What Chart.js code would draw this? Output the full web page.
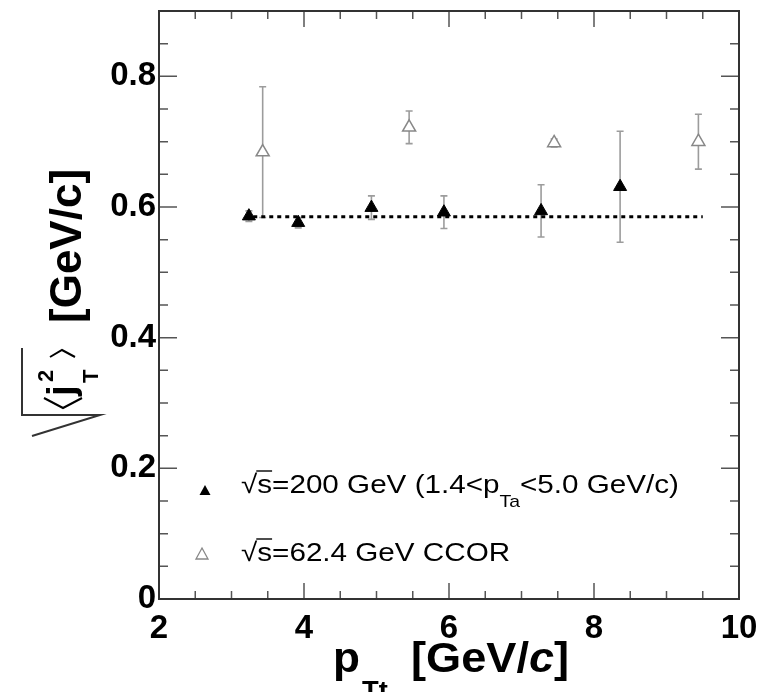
<!DOCTYPE html>
<html>
<head>
<meta charset="utf-8">
<script src="https://cdn.jsdelivr.net/npm/chart.js@4.4.1/dist/chart.umd.min.js"></script>
<style>
  html, body { margin: 0; padding: 0; background: #fff; }
</style>
</head>
<body>
<canvas id="grafico" width="769" height="692"></canvas>
<script>
// datos
const ptTrig200 = [3.24, 3.92, 4.93, 5.93, 7.27, 8.36];
const jt200 = [0.586, 0.576, 0.599, 0.592, 0.594, 0.631];
const err200 = [0.008, 0.008, 0.018, 0.025, 0.04, 0.085];

const ptTrig62 = [3.43, 5.45, 7.45, 9.44];
const jt62 = [0.684, 0.722, 0.698, 0.70];
const err62 = [0.1, 0.025, 0.006, 0.042];

const fitX = [3.3, 9.5];
const fitY = 0.585;

const xTicks = [2, 4, 6, 8, 10];
const yTicks = [0, 0.2, 0.4, 0.6, 0.8];

const FONT = '"Liberation Sans", Arial, Helvetica, sans-serif';

// barras de error (gris)
const errorBars = {
  id: 'errorBars',
  beforeDatasetsDraw(chart) {
    const { ctx, scales: { x, y } } = chart;
    ctx.save();
    ctx.strokeStyle = '#9c9c9c';
    ctx.lineWidth = 1.6;
    const dibujar = (xs, ys, es) => xs.forEach((v, i) => {
      const px = x.getPixelForValue(v);
      const top = y.getPixelForValue(ys[i] + es[i]);
      const bot = y.getPixelForValue(ys[i] - es[i]);
      ctx.beginPath();
      ctx.moveTo(px, top); ctx.lineTo(px, bot);
      ctx.moveTo(px - 3.5, top); ctx.lineTo(px + 3.5, top);
      ctx.moveTo(px - 3.5, bot); ctx.lineTo(px + 3.5, bot);
      ctx.stroke();
    });
    dibujar(ptTrig62, jt62, err62);
    dibujar(ptTrig200, jt200, err200);
    ctx.restore();
  }
};

// texto estirado en horizontal (la figura original esta algo ensanchada)
function texto(ctx, str, x, base, font, sx) {
  ctx.font = font;
  ctx.save();
  ctx.translate(x, base);
  ctx.scale(sx, 1);
  ctx.fillText(str, 0, 0);
  ctx.restore();
  return x + ctx.measureText(str).width * sx;
}

// marco estilo ROOT con ticks en los cuatro lados
const marco = {
  id: 'marco',
  afterDatasetsDraw(chart) {
    const { ctx, chartArea: a, scales: { x, y } } = chart;
    ctx.save();
    ctx.strokeStyle = '#555';
    ctx.lineWidth = 1.5;
    ctx.beginPath();
    for (let v = 2; v <= 10.001; v += 0.5) {
      const px = x.getPixelForValue(v);
      const len = Math.abs(v - Math.round(v / 2) * 2) < 1e-6 ? 16 : 8;
      ctx.moveTo(px, a.bottom); ctx.lineTo(px, a.bottom - len);
      ctx.moveTo(px, a.top); ctx.lineTo(px, a.top + len);
    }
    for (let v = 0; v <= 0.9001; v += 0.05) {
      const py = y.getPixelForValue(v);
      const major = Math.abs(v * 5 - Math.round(v * 5)) < 1e-6;
      const len = major ? 18 : 9;
      ctx.moveTo(a.left, py); ctx.lineTo(a.left + len, py);
      ctx.moveTo(a.right, py); ctx.lineTo(a.right - len, py);
    }
    ctx.stroke();
    ctx.strokeStyle = '#333';
    ctx.lineWidth = 2;
    ctx.strokeRect(a.left, a.top, a.right - a.left, a.bottom - a.top);
    ctx.restore();
  },
  afterDraw(chart) {
    const { ctx } = chart;
    ctx.save();
    ctx.fillStyle = '#000';
    ctx.textBaseline = 'alphabetic';

    // titulo eje x: p_Tt [GeV/c]
    texto(ctx, 'p', 333, 672, 'bold 42px ' + FONT, 1.05);
    texto(ctx, 'Tt', 362, 699, 'bold 26px ' + FONT, 1.05);
    let xx = texto(ctx, '[GeV/', 411, 672, 'bold 42px ' + FONT, 1.075);
    xx = texto(ctx, 'c', xx, 672, 'italic bold 42px ' + FONT, 1.075);
    texto(ctx, ']', xx, 672, 'bold 42px ' + FONT, 1.075);

    // titulo eje y (rotado): sqrt(<j_T^2>) [GeV/c]
    ctx.save();
    ctx.rotate(-Math.PI / 2);
    // local (a, b) -> pagina (b, -a)
    ctx.font = 'bold 44px ' + FONT;
    ctx.fillText('[GeV/c]', -323, 81);
    ctx.strokeStyle = '#333';
    ctx.lineWidth = 2;
    ctx.beginPath();
    ctx.moveTo(-348, 22); ctx.lineTo(-415, 22); ctx.lineTo(-415, 100); ctx.lineTo(-436, 32);
    ctx.stroke();
    ctx.strokeStyle = '#000';
    ctx.beginPath();
    ctx.moveTo(-398, 44); ctx.lineTo(-408, 63); ctx.lineTo(-398, 82);
    ctx.moveTo(-357, 50); ctx.lineTo(-350, 62); ctx.lineTo(-357, 75);
    ctx.stroke();
    ctx.font = 'bold 38px ' + FONT;
    ctx.fillText('j', -396, 74);
    ctx.font = 'bold 22px ' + FONT;
    ctx.fillText('2', -382, 53);
    ctx.fillText('T', -383, 98);
    ctx.restore();

    // leyenda
    ctx.lineWidth = 1.3;
    ctx.fillStyle = '#000';
    ctx.beginPath();
    ctx.moveTo(205, 485); ctx.lineTo(210.5, 495); ctx.lineTo(199.5, 495); ctx.closePath();
    ctx.fill();
    ctx.strokeStyle = '#888';
    ctx.fillStyle = '#fff';
    ctx.beginPath();
    ctx.moveTo(202, 548); ctx.lineTo(208, 559); ctx.lineTo(196, 559); ctx.closePath();
    ctx.fill(); ctx.stroke();

    ctx.fillStyle = '#000';
    const SX = 1.14;
    const F = '26px ' + FONT;
    const raiz = (x0, base) => {
      const xr = texto(ctx, '\u221A', x0, base, F, SX);
      const xs = texto(ctx, 's', xr, base, F, SX);
      ctx.strokeStyle = '#000';
      ctx.lineWidth = 1.4;
      ctx.beginPath();
      ctx.moveTo(xr - 1, base - 22); ctx.lineTo(xs, base - 22);
      ctx.stroke();
      return xs;
    };
    let lx = raiz(241, 493);
    lx = texto(ctx, '=200 GeV (1.4<p', lx, 493, F, SX);
    lx = texto(ctx, 'Ta', lx, 507, '17px ' + FONT, SX);
    texto(ctx, '<5.0 GeV/c)', lx, 493, F, SX);

    lx = raiz(241, 561);
    texto(ctx, '=62.4 GeV CCOR', lx, 561, F, SX);
    ctx.restore();
  }
};

const ctx = document.getElementById('grafico').getContext('2d');

new Chart(ctx, {
  type: 'scatter',
  data: {
    datasets: [
      {
        label: '200 GeV',
        data: ptTrig200.map((v, i) => ({ x: v, y: jt200[i] })),
        pointStyle: 'triangle',
        pointRadius: 7.5,
        pointBackgroundColor: '#000',
        pointBorderColor: '#000',
        pointBorderWidth: 1,
        order: 0
      },
      {
        label: '62.4 GeV CCOR',
        data: ptTrig62.map((v, i) => ({ x: v, y: jt62[i] })),
        pointStyle: 'triangle',
        pointRadius: 7.5,
        pointBackgroundColor: '#fff',
        pointBorderColor: '#888',
        pointBorderWidth: 1.5,
        order: 1
      },
      {
        type: 'line',
        label: 'ajuste',
        data: fitX.map(v => ({ x: v, y: fitY })),
        borderColor: '#000',
        borderWidth: 3,
        borderDash: [4, 4],
        pointRadius: 0,
        fill: false,
        order: 2
      }
    ]
  },
  options: {
    responsive: false,
    animation: false,
    layout: { padding: { top: 11, right: 30, left: 0, bottom: 0 } },
    plugins: {
      legend: { display: false },
      tooltip: { enabled: false },
      title: { display: false }
    },
    scales: {
      x: {
        type: 'linear',
        min: 2,
        max: 10,
        grid: { display: false, drawTicks: false },
        border: { display: false },
        afterBuildTicks: s => { s.ticks = xTicks.map(v => ({ value: v })); },
        afterFit: s => { s.height = 93; s.paddingLeft = 0; s.paddingRight = 0; },
        ticks: {
          color: '#000',
          padding: 10,
          maxRotation: 0,
          font: { family: FONT, size: 33, weight: 'bold' },
          callback: v => String(v)
        }
      },
      y: {
        type: 'linear',
        min: 0,
        max: 0.9,
        grid: { display: false, drawTicks: false },
        border: { display: false },
        afterBuildTicks: s => { s.ticks = yTicks.map(v => ({ value: v })); },
        afterFit: s => { s.width = 159; s.paddingTop = 0; s.paddingBottom = 0; },
        ticks: {
          color: '#000',
          padding: 3,
          font: { family: FONT, size: 33, weight: 'bold' },
          callback: v => (v === 0 ? '0' : v.toFixed(1))
        }
      }
    }
  },
  plugins: [errorBars, marco]
});
</script>
</body>
</html>
